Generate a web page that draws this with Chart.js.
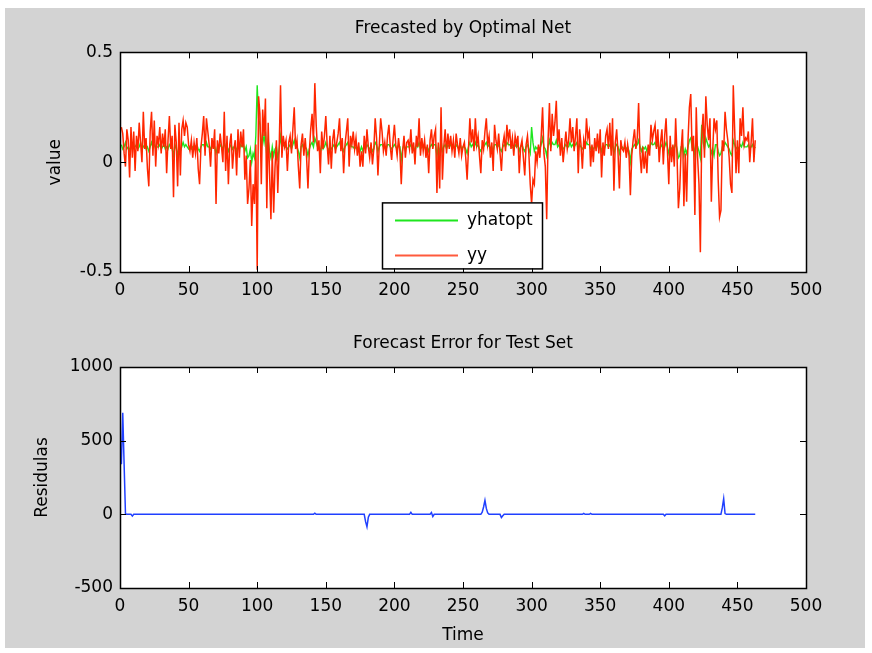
<!DOCTYPE html>
<html>
<head>
<meta charset="utf-8">
<script src="https://cdn.jsdelivr.net/npm/chart.js@4"></script>
<style>
  html, body { margin: 0; padding: 0; background: #fff; }
  #frame { position: absolute; left: 5px; top: 8px; width: 860px; height: 640px; background: #d3d3d3; }
  canvas { position: absolute; left: 0; }
  #top { top: 0; }
  #bottom { top: 320px; }
</style>
</head>
<body>
<div id="frame"></div>
<canvas id="top" width="872" height="320"></canvas>
<canvas id="bottom" width="872" height="333"></canvas>
<script>
// Data
const yy = [
  0.16, 0.13, 0.04, -0.02, 0.15, 0.10, -0.07, 0.16, 0.02, 0.14,
  -0.04, 0.12, 0.05, 0.18, 0.09, 0.00, 0.23, 0.06, 0.11, -0.03,
  -0.11, 0.14, 0.23, 0.03, 0.19, -0.02, 0.12, 0.08, 0.16, 0.04,
  0.13, 0.07, 0.15, -0.05, 0.10, 0.21, 0.06, 0.12, -0.16, 0.17,
  0.09, -0.11, 0.18, -0.06, 0.15, 0.19, 0.12, 0.18, 0.16, 0.08,
  0.05, 0.10, 0.02, 0.09, 0.04, 0.11, -0.03, -0.10, 0.07, 0.13,
  0.21, 0.03, 0.20, 0.14, 0.08, -0.02, 0.11, 0.06, 0.15, -0.19,
  0.10, 0.04, 0.13, 0.07, 0.00, 0.23, -0.04, 0.12, -0.10, 0.08,
  0.13, -0.03, 0.06, 0.10, -0.06, 0.15, 0.02, 0.14, 0.07, 0.15,
  -0.08, 0.03, -0.19, -0.12, 0.01, -0.29, -0.10, -0.19, 0.08, -0.49,
  0.30, 0.22, -0.10, 0.24, 0.12, 0.29, -0.21, 0.18, -0.05, -0.26,
  0.05, -0.23, -0.02, 0.10, -0.14, 0.06, 0.35, 0.02, 0.12, 0.07,
  0.10, -0.04, 0.09, 0.12, 0.04, 0.15, 0.25, 0.06, 0.10, -0.02,
  -0.12, 0.08, 0.13, 0.03, 0.11, 0.02, -0.12, 0.05, 0.15, 0.22,
  0.09, 0.36, 0.17, 0.05, 0.10, -0.05, 0.14, 0.06, 0.12, 0.21,
  0.08, -0.01, 0.12, -0.03, 0.10, 0.15, 0.04, 0.09, 0.13, 0.20,
  0.05, 0.11, -0.05, 0.08, 0.14, 0.20, -0.02, 0.12, 0.08, 0.14,
  0.06, 0.11, 0.03, 0.09, -0.02, 0.05, -0.02, 0.12, 0.04, 0.15,
  0.07, 0.02, 0.09, -0.01, 0.06, 0.20, 0.11, -0.06, 0.08, 0.20,
  0.14, 0.05, 0.09, 0.03, 0.12, 0.17, 0.07, 0.01, 0.10, 0.17,
  0.08, 0.03, 0.11, 0.05, -0.10, 0.05, 0.12, 0.02, 0.09, 0.10,
  0.06, 0.15, 0.04, 0.09, -0.01, 0.12, 0.07, 0.20, 0.03, 0.11,
  0.05, 0.10, 0.02, 0.08, -0.05, 0.10, 0.15, 0.06, 0.12, 0.15,
  -0.14, 0.09, -0.12, 0.25, -0.08, 0.07, 0.15, 0.04, 0.13, 0.06,
  0.12, 0.05, 0.10, 0.02, 0.13, 0.08, 0.04, 0.11, 0.03, 0.07,
  0.09, 0.02, -0.08, 0.06, 0.20, 0.09, 0.15, 0.05, 0.20, 0.08,
  0.12, 0.03, -0.05, 0.10, 0.06, 0.14, 0.20, 0.08, 0.12, 0.02,
  0.09, -0.04, 0.17, 0.10, 0.06, 0.13, 0.04, -0.04, 0.08, 0.12,
  0.05, 0.17, 0.10, 0.15, 0.06, 0.11, 0.03, 0.12, 0.08, 0.12,
  -0.05, 0.07, 0.10, 0.02, -0.06, 0.08, 0.12, 0.04, -0.10, -0.19,
  -0.08, -0.10, 0.05, 0.00, 0.08, 0.02, 0.12, 0.25, 0.04, -0.02,
  -0.26, 0.10, 0.27, 0.05, 0.22, 0.12, 0.18, 0.28, 0.08, 0.15,
  0.03, 0.11, 0.00, 0.07, 0.14, 0.06, 0.10, 0.20, 0.09, 0.16,
  0.05, 0.12, 0.20, -0.05, 0.15, 0.08, -0.03, 0.10, 0.06, 0.20,
  0.11, 0.14, -0.02, 0.08, 0.00, 0.11, 0.05, 0.13, 0.04, 0.15,
  -0.07, 0.09, 0.03, 0.12, 0.15, 0.06, 0.18, 0.03, 0.20, -0.13,
  0.09, 0.15, 0.04, -0.12, 0.10, 0.06, 0.05, 0.09, 0.02, 0.08,
  0.03, -0.15, 0.03, 0.10, 0.15, 0.06, 0.11, 0.27, 0.04, -0.05,
  0.07, -0.03, 0.05, -0.05, 0.08, 0.03, 0.17, 0.10, 0.14, 0.17,
  0.06, 0.15, 0.00, 0.09, 0.15, -0.01, 0.12, 0.20, 0.05, -0.10,
  0.12, 0.00, 0.08, -0.02, 0.20, 0.03, -0.21, -0.12, 0.06, 0.15,
  -0.20, 0.04, -0.18, 0.10, 0.25, 0.31, 0.05, 0.12, -0.24, 0.25,
  0.02, -0.10, -0.41, 0.12, 0.22, 0.02, 0.30, 0.17, 0.10, 0.20,
  -0.18, 0.05, 0.20, 0.15, 0.19, -0.08, -0.25, -0.22, 0.10, 0.05,
  0.23, 0.15, 0.10, 0.02, -0.10, -0.14, 0.35, 0.15, -0.05, 0.10,
  -0.05, 0.20, 0.12, 0.25, 0.08, 0.11, 0.10, 0.14, 0.00, 0.09,
  0.20, 0.00, 0.10
];

const yhatopt = [
  .08,.06,.07,.09,.06,.07,.05,.08,.06,.07,
  .07,.08,.06,.07,.09,.06,.07,.08,.06,.07,
  .05,.07,.09,.07,.08,.06,.07,.07,.08,.06,
  .07,.08,.06,.07,.06,.08,.07,.06,.03,.08,
  .06,.03,.08,.05,.07,.09,.07,.08,.07,.06,
  .07,.06,.07,.06,.07,.08,.06,.05,.07,.08,
  .08,.06,.09,.07,.07,.06,.08,.07,.07,.04,
  .07,.06,.08,.07,.06,.09,.06,.07,.05,.07,
  .08,.06,.07,.07,.05,.08,.06,.08,.07,.08,
  .05,.07,.02,.03,.06,.00,.04,.02,.12,.35,
  .20,.17,.06,.13,.09,.14,.03,.10,.05,.02,
  .07,.03,.06,.07,.02,.06,.12,.07,.08,.07,
  .07,.06,.07,.08,.06,.08,.10,.07,.07,.05,
  .02,.07,.08,.06,.07,.06,.03,.06,.08,.09,
  .07,.11,.09,.07,.07,.05,.08,.06,.07,.09,
  .07,.05,.07,.06,.07,.08,.06,.07,.08,.09,
  .07,.07,.05,.07,.08,.09,.06,.08,.07,.07,
  .06,.07,.06,.07,.05,.07,.05,.08,.06,.08,
  .07,.06,.07,.05,.06,.09,.08,.05,.07,.08,
  .08,.07,.07,.06,.08,.08,.07,.06,.07,.08,
  .07,.06,.08,.07,.01,.06,.08,.06,.07,.07,
  .07,.08,.06,.07,.05,.08,.07,.09,.06,.07,
  .07,.07,.06,.07,.05,.07,.08,.07,.08,.08,
  .03,.07,.04,.10,.05,.07,.08,.06,.08,.07,
  .08,.07,.07,.06,.08,.07,.06,.08,.06,.07,
  .07,.06,.04,.07,.09,.07,.08,.07,.09,.07,
  .08,.06,.05,.07,.07,.08,.09,.07,.08,.06,
  .07,.05,.08,.08,.07,.08,.06,.05,.07,.08,
  .07,.09,.08,.08,.07,.07,.06,.08,.07,.08,
  .05,.07,.08,.06,.05,.07,.08,.06,.04,.16,
  .09,.05,.07,.06,.07,.06,.08,.11,.07,.06,
  .03,.07,.10,.07,.09,.08,.08,.10,.07,.08,
  .06,.07,.06,.07,.08,.07,.07,.09,.07,.08,
  .07,.08,.09,.05,.08,.07,.06,.07,.07,.09,
  .08,.08,.06,.07,.06,.07,.07,.08,.06,.08,
  .05,.07,.06,.08,.08,.07,.08,.06,.09,.04,
  .07,.08,.07,.04,.07,.07,.06,.07,.06,.07,
  .05,.00,.06,.07,.08,.07,.08,.10,.07,.05,
  .07,.06,.07,.05,.07,.06,.09,.08,.08,.09,
  .07,.08,.06,.07,.08,.05,.07,.09,.07,.04,
  .07,.06,.07,.06,.09,.06,.02,.03,.07,.08,
  .03,.06,.04,.07,.10,.11,.07,.08,.03,.10,
  .07,.05,.02,.17,.09,.06,.11,.09,.07,.08,
  .04,.06,.03,.08,.08,.05,.03,.04,.07,.07,
  .09,.08,.07,.06,.04,.03,.10,.08,.06,.07,
  .06,.08,.07,.09,.07,.07,.07,.08,.06,.07,
  .08,.06,.07
];

// residuals: flat at zero except where the picture shows a blip
const resTime = [1, 2, 3, 4, 5, 8, 9, 10, 141, 142, 143, 178, 179, 180, 181, 182,
  211, 212, 213, 226, 227, 228, 229, 263, 264, 265, 266, 267, 268, 269, 270,
  277, 278, 279, 280, 337, 338, 339, 342, 343, 344, 396, 397, 398,
  438, 439, 440, 441, 442, 463];
const residuals = [340, 690, 340, 0, 0, 0, -12, 0, 0, 8, 0, 0, -50, -85, -20, 0,
  0, 14, 0, 0, 12, -15, 0, 0, 15, 50, 95, 40, 10, 0, 0,
  0, -22, -10, 0, 0, 6, 0, 0, 6, 0, 0, -10, 0,
  0, 45, 106, 5, 0, 0];

const xTicks = [0, 500, 50];
const topTicks = [-0.5, 0.5, 0.5];
const bottomTicks = [-500, 1000, 500];

const FONT = "'DejaVu Sans', sans-serif";
const SIZE = 17;

// white plot area, box and inward ticks like matlab
const matlabBox = {
  id: 'matlabBox',
  beforeDraw(chart) {
    const a = chart.chartArea;
    chart.ctx.save();
    chart.ctx.fillStyle = '#fff';
    chart.ctx.fillRect(a.left, a.top, a.right - a.left, a.bottom - a.top);
    chart.ctx.restore();
  },
  afterDraw(chart) {
    const a = chart.chartArea;
    const ctx = chart.ctx;
    const xs = chart.scales.x, ys = chart.scales.y;
    ctx.save();
    ctx.strokeStyle = '#000';
    ctx.lineWidth = 1;
    ctx.beginPath();
    xs.ticks.forEach(t => {
      const px = Math.round(xs.getPixelForValue(t.value)) + 0.5;
      ctx.moveTo(px, a.bottom); ctx.lineTo(px, a.bottom - 6);
      ctx.moveTo(px, a.top); ctx.lineTo(px, a.top + 6);
    });
    ys.ticks.forEach(t => {
      const py = Math.round(ys.getPixelForValue(t.value)) + 0.5;
      ctx.moveTo(a.left, py); ctx.lineTo(a.left + 6, py);
      ctx.moveTo(a.right, py); ctx.lineTo(a.right - 6, py);
    });
    ctx.stroke();
    ctx.lineWidth = 1.5;
    ctx.strokeRect(Math.round(a.left) + 0.5, Math.round(a.top) + 0.5,
      Math.round(a.right - a.left), Math.round(a.bottom - a.top));
    ctx.restore();
  }
};

// legend box drawn inside the plot
const innerLegend = {
  id: 'innerLegend',
  afterDraw(chart, args, opts) {
    if (!opts.show) return;
    const a = chart.chartArea;
    const ctx = chart.ctx;
    const x = a.left + 262, y = a.top + 150, w = 160, h = 66;
    ctx.save();
    ctx.fillStyle = '#fff';
    ctx.fillRect(x, y, w, h);
    ctx.strokeStyle = '#000';
    ctx.lineWidth = 1.5;
    ctx.strokeRect(x + 0.5, y + 0.5, w, h);
    ctx.font = SIZE + 'px ' + FONT;
    ctx.textBaseline = 'middle';
    opts.items.forEach((idx, i) => {
      const ds = chart.data.datasets[idx];
      const ly = y + 18 + i * 35;
      ctx.strokeStyle = ds.legendColor || ds.borderColor;
      ctx.lineWidth = 2;
      ctx.beginPath();
      ctx.moveTo(x + 13, ly); ctx.lineTo(x + 76, ly);
      ctx.stroke();
      ctx.fillStyle = '#000';
      ctx.fillText(ds.label, x + 85, ly);
    });
    ctx.restore();
  }
};

function numLabel(v) { return String(v); }

function makeOptions(cfg) {
  return {
    responsive: false,
    animation: false,
    layout: { padding: { left: 0, right: 66, top: 0, bottom: 0 } },
    plugins: {
      legend: { display: false },
      tooltip: { enabled: false },
      title: {
        display: true, text: cfg.title, color: '#000', fullSize: false,
        font: { family: FONT, size: SIZE, weight: 'normal' },
        padding: cfg.titlePad
      },
      innerLegend: cfg.legend
    },
    scales: {
      x: {
        type: 'linear', min: xTicks[0], max: xTicks[1],
        grid: { display: false, drawTicks: false },
        border: { display: false },
        afterFit: s => { s.height = cfg.xHeight; },
        ticks: { stepSize: xTicks[2], padding: 8, color: '#000', maxRotation: 0,
          font: { family: FONT, size: SIZE }, callback: numLabel },
        title: cfg.xTitle
      },
      y: {
        min: cfg.yTicks[0], max: cfg.yTicks[1],
        grid: { display: false, drawTicks: false },
        border: { display: false },
        afterFit: s => { s.width = 120; },
        ticks: { stepSize: cfg.yTicks[2], padding: 7, color: '#000',
          font: { family: FONT, size: SIZE }, callback: numLabel },
        title: {
          display: true, text: cfg.yLabel, color: '#000',
          font: { family: FONT, size: SIZE }, padding: { top: cfg.yLabelPad, bottom: 0 }
        }
      }
    }
  };
}

new Chart(document.getElementById('top'), {
  type: 'line',
  data: {
    datasets: [
      {
        label: 'yhatopt',
        data: yhatopt.map((v, i) => ({ x: i + 1, y: v })),
        borderColor: '#1ee61e', borderWidth: 1.4, pointRadius: 0, order: 1
      },
      {
        label: 'yy',
        data: yy.map((v, i) => ({ x: i + 1, y: v })),
        borderColor: '#ff2600', legendColor: '#ff5a3c', borderWidth: 1.5, pointRadius: 0, order: 0
      }
    ]
  },
  options: makeOptions({
    title: 'Frecasted by Optimal Net',
    titlePad: { top: 18, bottom: 14 },
    xHeight: 48,
    yTicks: topTicks,
    yLabel: 'value',
    yLabelPad: 45,
    xTitle: { display: false },
    legend: { show: true, items: [0, 1] }
  }),
  plugins: [matlabBox, innerLegend]
});

new Chart(document.getElementById('bottom'), {
  type: 'line',
  data: {
    datasets: [{
      label: 'Residulas',
      data: resTime.map((t, i) => ({ x: t, y: residuals[i] })),
      borderColor: '#2040ff', borderWidth: 1.5, pointRadius: 0
    }]
  },
  options: makeOptions({
    title: 'Forecast Error for Test Set',
    titlePad: { top: 13, bottom: 13.6 },
    xHeight: 65,
    yTicks: bottomTicks,
    yLabel: 'Residulas',
    yLabelPad: 32,
    xTitle: {
      display: true, text: 'Time', color: '#000',
      font: { family: FONT, size: SIZE }, padding: { top: 0, bottom: 7 }
    },
    legend: { show: false }
  }),
  plugins: [matlabBox, innerLegend]
});
</script>
</body>
</html>
